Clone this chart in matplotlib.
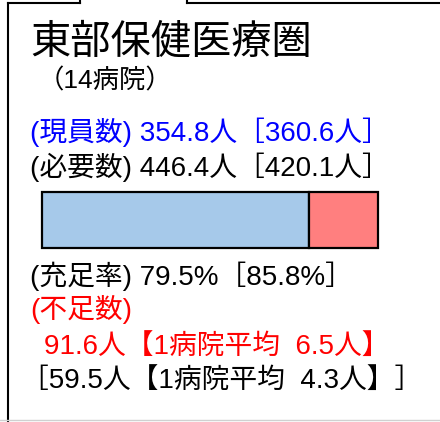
import matplotlib
matplotlib.use("Agg")
import matplotlib.pyplot as plt
from matplotlib.lines import Line2D

# data
area = "東部保健医療圏"
hospitals = 14
staff_now = [354.8, 360.6]      # current, [previous]
staff_need = [446.4, 420.1]
fill_rate = [79.5, 85.8]
shortage = [91.6, 59.5]
per_hospital = [6.5, 4.3]

W, H = 440, 422
BLUE_TXT = "#0000ff"
RED_TXT = "#ff0000"
BAR_BLUE = "#a6c9ea"
BAR_RED = "#ff7f7f"

plt.rcParams["font.family"] = ["Liberation Sans", "Noto Sans CJK JP", "DejaVu Sans"]

fig = plt.figure(figsize=(W / 100, H / 100), dpi=100)


def px(x, y):
    return x / W, 1 - y / H


def put(x, y, s, size, color="black"):
    fx, fy = px(x, y)
    fig.text(fx, fy, s, fontsize=size, color=color, va="baseline", ha="left")


# frame
frame = [([8, 8], [3, H]), ([8, 80], [3, 3]), ([80, 80], [0, 3]),
         ([187, 187], [0, 3]), ([187, W], [3, 3])]
for xs, ys in frame:
    fig.add_artist(Line2D([x / W for x in xs], [1 - y / H for y in ys],
                          color="black", lw=1.5, transform=fig.transFigure))
fig.add_artist(Line2D([0, 1], [1 - 420 / H] * 2, color="#d0d0d0", lw=1,
                      transform=fig.transFigure))

# text
put(30, 54, area, 29)
put(38, 88, f"（{hospitals}病院）", 19)
put(30, 141, f"(現員数) {staff_now[0]}人［{staff_now[1]}人］", 20, BLUE_TXT)
put(30, 176, f"(必要数) {staff_need[0]}人［{staff_need[1]}人］", 20)
put(30, 285, f"(充足率) {fill_rate[0]}%［{fill_rate[1]}%］", 20)
put(30, 318, "(不足数)", 20, RED_TXT)
put(44, 354, f"{shortage[0]}人【1病院平均  {per_hospital[0]}人】", 20, RED_TXT)
put(21, 388, f"［{shortage[1]}人【1病院平均  {per_hospital[1]}人】］", 20)

# bar
x0, y0 = px(41.7, 248)
x1, y1 = px(378, 191.7)
ax = fig.add_axes([x0, y0, x1 - x0, y1 - y0])
ax.barh(0, staff_now[0], height=1, color=BAR_BLUE, edgecolor="black",
        lw=1.6, clip_on=False)
ax.barh(0, staff_need[0] - staff_now[0], left=staff_now[0], height=1,
        color=BAR_RED, edgecolor="black", lw=1.6, clip_on=False)
ax.set_xlim(0, staff_need[0])
ax.set_ylim(-0.5, 0.5)
ax.axis("off")

fig.savefig("out.png", dpi=100)
